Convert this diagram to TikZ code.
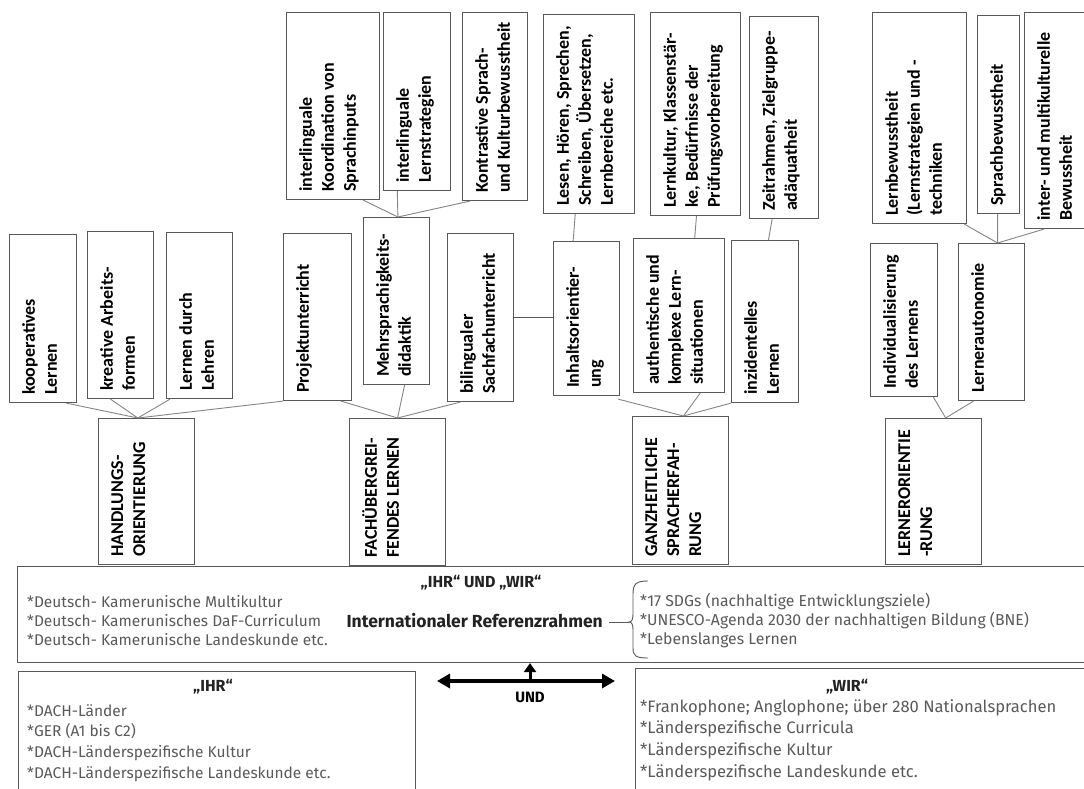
\documentclass[tikz,border=0pt]{standalone}
\usepackage{fontspec}
\setmainfont{Carlito}
\newfontfamily\lab{Carlito}
\newfontfamily\bt{Fira Sans}
\usetikzlibrary{calc,arrows.meta}
\definecolor{boxc}{HTML}{595959}
\definecolor{conc}{HTML}{858585}
\definecolor{txtc}{HTML}{5A5A5A}
\definecolor{ttlc}{HTML}{222222}
\newcommand\mybox[6]{%
  \node[box,minimum width={(#4-#2)*1pt},minimum height={(#5-#3)*1pt}] (#1) at (#2,#3) {};
  \node[lbl] (#1-t) at ($(#1.south west)+(13,-8)$) {#6};}
\begin{document}
\begin{tikzpicture}[x=1pt,y=-1pt,
  box/.style={draw=boxc,line width=1.1pt,fill=white,inner sep=0pt,anchor=north west},
  lbl/.style={rotate=90,anchor=north west,align=left,inner sep=0pt,text=black,font=\lab\bfseries\fontsize{18}{22}\selectfont},
  con/.style={draw=conc,line width=0.9pt},
  frame/.style={draw=boxc,line width=1.1pt,fill=white,inner sep=0pt,anchor=north west},
  body/.style={anchor=west,align=left,inner sep=0pt,text=txtc,font=\bt\fontsize{15.5}{19}\selectfont},
  ttl/.style={inner sep=0pt,text=ttlc,font=\bt\bfseries\fontsize{16}{19}\selectfont},
  bigarr/.style={line width=4pt,{Triangle[length=13pt,width=14pt]}-{Triangle[length=13pt,width=14pt]}},
  uparr/.style={line width=3pt,-{Triangle[length=9pt,width=12pt]}}]
\useasboundingbox (0,0) rectangle (1084,789);
\fill[white] (0,0) rectangle (1084,789);

% top row
\mybox{t1}{286}{12}{379}{199}{interlinguale\\Koordination von\\Sprachinputs}
\mybox{t2}{383}{12}{450}{190}{interlinguale\\Lernstrategien}
\mybox{t3}{462}{12}{527}{200}{Kontrastive Sprach-\\und Kulturbewusstheit}
\mybox{t4}{543}{14}{634}{213}{Lesen, Hören, Sprechen,\\Schreiben, Übersetzen,\\Lernbereiche etc.}
\mybox{t5}{650}{12}{740}{215}{Lernkultur, Klassenstär-\\ke, Bedürfnisse der\\Prüfungsvorbereitung}
\mybox{t6}{749}{16}{818}{218}{Zeitrahmen, Zielgruppe-\\adäquatheit}
\mybox{t7}{872}{12}{966}{223}{Lernbewusstheit\\(Lernstrategien und -\\techniken}
\mybox{t8}{977}{15}{1019}{213}{Sprachbewusstheit}
\mybox{t9}{1024}{12}{1092}{228}{inter- und multikulturelle\\Bewussheit}

% middle row
\mybox{koop}{9}{234}{76}{402}{kooperatives\\Lernen}
\mybox{krea}{87}{231}{153}{398}{kreative Arbeits-\\formen}
\mybox{lehr}{166}{232}{232}{398}{Lernen durch\\Lehren}
\mybox{proj}{283}{233}{351}{400}{Projektunterricht}
\mybox{mehr}{363}{217}{429}{384}{Mehrsprachigkeits-\\didaktik}
\mybox{bili}{447}{233}{513}{401}{bilingualer\\Sachfachunterricht}
\mybox{inha}{553}{241}{619}{395}{Inhaltsorientier-\\ung}
\mybox{auth}{633}{238}{724}{392}{authentische und\\komplexe Lern-\\situationen}
\mybox{inzi}{731}{240}{798}{402}{inzidentelles\\Lernen}
\mybox{indi}{870}{243}{937}{396}{Individualisierung\\des Lernens}
\mybox{auto}{958}{243}{1024}{400}{Lernerautonomie}

% bottom row
\mybox{hand}{98}{418}{194}{564}{HANDLUNGS-\\ORIENTIERUNG}
\mybox{fach}{349}{418}{445}{565}{FACHÜBERGREI-\\FENDES LERNEN}
\mybox{ganz}{632}{416}{728}{564}{GANZHEITLICHE\\SPRACHERFAH-\\RUNG}
\mybox{lern}{885}{418}{981}{564}{LERNERORIENTIE\\-RUNG}

% junction points
\coordinate (hand-j) at ($(hand.north west)!0.41!(hand.north east)$);
\coordinate (fach-j) at ($(fach.north west)!0.5!(fach.north east)$);
\coordinate (ganz-j) at ($(ganz.north west)!0.53!(ganz.north east)$);
\coordinate (lern-j) at ($(lern.north west)!0.625!(lern.north east)$);
\coordinate (mehr-j) at ($(mehr.north west)!0.52!(mehr.north east)$);
\coordinate (auto-j) at ($(auto.north west)!0.59!(auto.north east)$);

% connectors
\draw[con] ($(koop.south west)!0.84!(koop.south east)$) -- (hand-j);
\draw[con] ($(krea.south west)!0.35!(krea.south east)$) -- (hand-j);
\draw[con] ($(lehr.south west)!0.06!(lehr.south east)$) -- (hand-j);
\draw[con] (proj.south west) -- (hand-j);

\draw[con] ($(proj.south west)!0.84!(proj.south east)$) -- (fach-j);
\draw[con] ($(mehr.south west)!0.62!(mehr.south east)$) -- (fach-j);
\draw[con] ($(bili.south west)!0.2!(bili.south east)$) -- (fach-j);

\draw[con] ($(t1.south west)!0.82!(t1.south east)$) -- (mehr-j);
\draw[con] ($(t2.south west)!0.21!(t2.south east)$) -- (mehr-j);
\draw[con] ($(t3.south west)!0.12!(t3.south east)$) -- (mehr-j);

\draw[boxc,line width=1.3pt] (bili.east) -- (bili.east -| inha.west);

\draw[con] ($(inha.south west)!0.97!(inha.south east)+(0,3)$) -- (ganz-j);
\draw[con] ($(auth.south west)!0.73!(auth.south east)$) -- (ganz-j);
\draw[con] (inzi.south west) -- (ganz-j);

\draw[con] ($(inha.north west)!0.3!(inha.north east)$) -- ($(t4.south west)!0.35!(t4.south east)$);
\draw[con] ($(auth.north west)!0.67!(auth.north east)$) -- ($(t5.south west)!0.51!(t5.south east)$);
\draw[con] ($(inzi.north west)!0.55!(inzi.north east)$) -- ($(t6.south west)!0.33!(t6.south east)$);

\draw[con] ($(indi.south west)!0.93!(indi.south east)$) -- (lern-j);
\draw[con] ($(auto.south west)!0.23!(auto.south east)$) -- (lern-j);

\draw[con] ($(t7.south west)!0.97!(t7.south east)$) -- (auto-j);
\draw[con] ($(t8.south west)!0.48!(t8.south east)$) -- (auto-j);
\draw[con] ($(t9.south west)!0.29!(t9.south east)$) -- (auto-j);

% big frame
\node[frame,minimum width=1080pt,minimum height=96pt] (big) at (17,566) {};
\node[ttl] (bigt) at (481,583) {„IHR“ UND „WIR“};
\node[body] (bigl) at (27,621) {*Deutsch- Kamerunische Multikultur\\*Deutsch- Kamerunisches DaF-Curriculum\\*Deutsch- Kamerunische Landeskunde etc.};
\node[ttl,anchor=east,font=\bt\bfseries\fontsize{17.5}{20}\selectfont] (ref) at (603,621) {Internationaler Referenzrahmen};
\coordinate (tip) at (629,622);
\draw[boxc,line width=0.9pt] ($(ref.east)+(6,1)$) -- (tip);
\draw[boxc,line width=0.9pt] (648,581) .. controls (636,581) and (633,584) .. (633,594) -- (633,614)
  .. controls (633,619) and (632,622) .. (tip) .. controls (632,622) and (633,625) .. (633,630)
  -- (633,648) .. controls (633,656) and (636,658) .. (648,658);
\node[body,font=\bt\fontsize{15.8}{19}\selectfont] (bigr) at (640,621) {*17 SDGs (nachhaltige Entwicklungsziele)\\*UNESCO-Agenda 2030 der nachhaltigen Bildung (BNE)\\*Lebenslanges Lernen};

% IHR box
\node[frame,minimum width=397pt,minimum height=140pt] (ihr) at (18,671) {};
\node[ttl] (ihrt) at (213,687) {„IHR“};
\node[body,font=\bt\fontsize{15.5}{20.7}\selectfont] (ihrl) at (27,743) {*DACH-Länder\\*GER (A1 bis C2)\\*DACH-Länderspezifische Kultur\\*DACH-Länderspezifische Landeskunde etc.};

% WIR box
\node[frame,minimum width=460pt,minimum height=140pt] (wir) at (635,668) {};
\node[ttl] (wirt) at (847,687) {„WIR“};
\node[body,font=\bt\fontsize{16.6}{21.7}\selectfont] (wirl) at (640,740) {*Frankophone; Anglophone; über 280 Nationalsprachen\\*Länderspezifische Curricula\\*Länderspezifische Kultur\\*Länderspezifische Landeskunde etc.};

% arrows
\coordinate (al) at (437,681);
\coordinate (ar) at (615,681);
\coordinate (am) at (530,682);
\draw[bigarr] (al) -- (ar);
\draw[uparr] (am) -- (am |- big.south);
\node[ttl,text=black,font=\bt\bfseries\fontsize{15}{18}\selectfont] (und) at (530,697) {UND};
\end{tikzpicture}
\end{document}
